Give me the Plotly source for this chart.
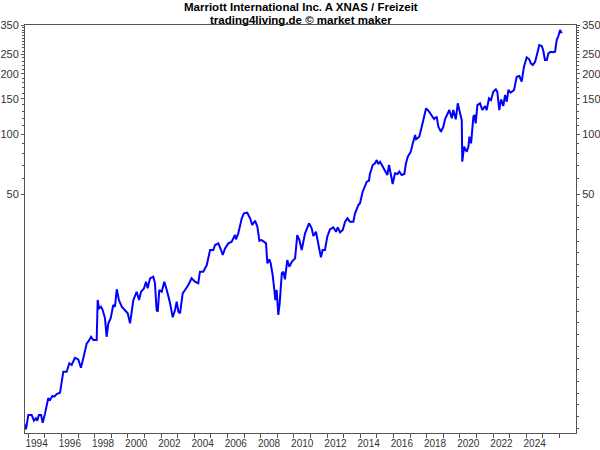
import math
from datetime import datetime
import plotly.graph_objects as go

# ---- data (decimal year, price) ----
years_dec = [
    1993.74, 1993.86, 1994.00, 1994.20, 1994.34, 1994.46, 1994.54, 1994.64, 1994.77, 1994.87,
    1995.01, 1995.20, 1995.31, 1995.45, 1995.57, 1995.71, 1995.91, 1996.11, 1996.31, 1996.47,
    1996.61, 1996.81, 1997.01, 1997.17, 1997.31, 1997.52, 1997.61, 1997.78, 1997.92, 1998.12,
    1998.18, 1998.26, 1998.38, 1998.48, 1998.62, 1998.72, 1998.82, 1998.96, 1999.12, 1999.22,
    1999.33, 1999.46, 1999.63, 1999.89, 1999.99, 2000.13, 2000.33, 2000.53, 2000.67, 2000.79,
    2000.97, 2001.09, 2001.19, 2001.33, 2001.53, 2001.63, 2001.73, 2001.80, 2001.89, 2002.04,
    2002.19, 2002.34, 2002.54, 2002.70, 2002.84, 2002.94, 2003.04, 2003.14, 2003.30, 2003.44,
    2003.64, 2003.84, 2004.04, 2004.24, 2004.34, 2004.54, 2004.75, 2004.95, 2005.14, 2005.25,
    2005.45, 2005.61, 2005.71, 2005.85, 2006.05, 2006.25, 2006.45, 2006.51, 2006.65, 2006.86,
    2006.99, 2007.19, 2007.36, 2007.49, 2007.66, 2007.80, 2007.92, 2008.06, 2008.32, 2008.40,
    2008.52, 2008.60, 2008.72, 2008.82, 2008.88, 2008.96, 2009.06, 2009.14, 2009.27, 2009.36,
    2009.46, 2009.60, 2009.72, 2009.87, 2010.07, 2010.20, 2010.33, 2010.47, 2010.57, 2010.67,
    2010.91, 2011.07, 2011.17, 2011.33, 2011.47, 2011.63, 2011.73, 2011.87, 2012.01, 2012.17,
    2012.37, 2012.54, 2012.64, 2012.78, 2012.94, 2013.08, 2013.22, 2013.38, 2013.58, 2013.68,
    2013.88, 2013.98, 2014.14, 2014.39, 2014.52, 2014.58, 2014.75, 2014.89, 2014.99, 2015.08,
    2015.19, 2015.35, 2015.49, 2015.63, 2015.73, 2015.86, 2015.95, 2016.09, 2016.23, 2016.35,
    2016.49, 2016.65, 2016.75, 2016.86, 2017.04, 2017.16, 2017.30, 2017.36, 2017.55, 2017.70,
    2017.84, 2017.96, 2018.10, 2018.30, 2018.44, 2018.60, 2018.70, 2018.86, 2019.00, 2019.10,
    2019.24, 2019.36, 2019.51, 2019.60, 2019.75, 2019.87, 2020.01, 2020.11, 2020.14, 2020.25,
    2020.41, 2020.51, 2020.57, 2020.67, 2020.81, 2020.87, 2020.95, 2021.05, 2021.21, 2021.35,
    2021.51, 2021.61, 2021.75, 2021.87, 2022.01, 2022.16, 2022.25, 2022.37, 2022.48, 2022.61,
    2022.72, 2022.82, 2022.92, 2023.06, 2023.26, 2023.42, 2023.58, 2023.72, 2023.86, 2024.02,
    2024.18, 2024.27, 2024.39, 2024.53, 2024.66, 2024.78, 2024.93, 2025.02, 2025.12, 2025.23,
    2025.33, 2025.47, 2025.63, 2025.73, 2025.83, 2025.93, 2026.03, 2026.13,
]
prices = [
    3.58, 3.34, 3.94, 3.94, 3.69, 3.79, 3.69, 3.94, 3.94, 3.60,
    4.01, 4.77, 4.68, 4.90, 4.86, 5.01, 5.09, 6.48, 6.48, 7.14,
    7.00, 7.61, 7.47, 6.78, 7.56, 8.98, 9.15, 9.69, 9.33, 9.33,
    14.79, 13.44, 13.69, 13.18, 11.98, 9.69, 11.31, 11.98, 13.96, 13.69,
    16.73, 14.79, 13.69, 12.93, 12.69, 11.31, 14.79, 16.27, 14.79, 16.27,
    16.92, 18.26, 16.92, 18.99, 19.34, 17.93, 13.18, 12.93, 16.60, 16.27,
    18.26, 16.60, 14.24, 12.12, 13.18, 14.51, 12.93, 12.69, 15.97, 16.60,
    17.58, 18.99, 18.26, 17.93, 20.49, 20.49, 22.13, 26.30, 26.30, 27.86,
    28.41, 26.30, 24.83, 26.82, 28.41, 28.94, 31.26, 29.74, 31.88, 37.89,
    40.13, 40.41, 37.89, 35.08, 36.85, 34.39, 29.27, 29.51, 28.41, 22.57,
    23.63, 22.57, 19.72, 16.60, 14.79, 16.60, 12.45, 14.24, 20.11, 20.49,
    18.77, 23.44, 21.70, 22.98, 23.90, 31.26, 29.51, 26.30, 29.51, 31.88,
    35.77, 33.77, 30.90, 32.47, 28.18, 24.17, 26.30, 26.30, 30.65, 33.38,
    34.16, 32.47, 34.16, 32.25, 33.11, 36.43, 37.89, 36.43, 36.43, 40.13,
    44.16, 45.03, 51.46, 57.74, 58.42, 63.10, 69.98, 71.37, 74.13, 70.79,
    72.69, 68.65, 65.56, 62.37, 69.98, 62.37, 56.23, 63.60, 63.10, 64.78,
    62.37, 63.10, 71.37, 77.00, 81.55, 89.85, 98.86, 94.08, 96.94, 108.8,
    122.1, 134.4, 130.8, 124.5, 118.9, 122.1, 108.8, 102.7, 108.8, 118.4,
    124.5, 131.8, 119.8, 131.8, 118.4, 142.4, 126.9, 117.5, 72.69, 86.38,
    81.55, 86.38, 96.94, 89.85, 122.1, 124.5, 113.1, 139.6, 142.4, 131.8,
    138.0, 131.8, 150.8, 147.9, 162.7, 167.3, 162.7, 131.8, 149.1, 138.0,
    156.7, 145.1, 166.0, 160.9, 166.0, 193.4, 195.0, 182.6, 217.0, 241.8,
    236.3, 225.7, 221.3, 229.9, 253.2, 278.6, 275.4, 260.9, 234.4, 234.4,
    253.2, 257.9, 256.2, 257.9, 295.1, 309.0, 331.1, 318.8,
]
y_tick_values = [50, 100, 150, 200, 250, 350]
y_tick_labels = ["50", "100", "150", "200", "250", "350"]
x_label_years = list(range(1994, 2025, 2))
x_tick_years = list(range(1994, 2027))

title_line1 = "Marriott International Inc. A XNAS / Freizeit"
title_line2 = "trading4living.de © market maker"


def dec_to_date(v):
    yr = int(math.floor(v))
    start = datetime(yr, 1, 1)
    end = datetime(yr + 1, 1, 1)
    return start + (end - start) * (v - yr)


dates = [dec_to_date(v).strftime("%Y-%m-%d") for v in years_dec]
label_pos = [f"{y}-07-02" for y in x_label_years]
label_txt = [str(y) for y in x_label_years]
tick_pos = [f"{y}-01-01" for y in x_tick_years]

minor_common = [v for v in range(60, 350, 10) if v not in (100, 150, 200, 250)]
y_lo, y_hi = 3.2, 350.8
minor_right = list(minor_common)
k = 1
while True:
    v = 50 * 10 ** (-0.0585 * k)
    if v < y_lo:
        break
    minor_right.append(v)
    k += 1

axis_col = "#555555"
lab_font = dict(family="Liberation Sans, Arial, sans-serif", size=11, color="#333333")
title_font = dict(family="Liberation Sans, Arial, sans-serif", size=11.5, color="#000000")

fig = go.Figure()
fig.add_trace(go.Scatter(x=dates, y=prices, mode="lines",
                         line=dict(color="#0000FF", width=2),
                         hoverinfo="skip", showlegend=False))
fig.add_trace(go.Scatter(x=dates, y=prices, mode="lines", yaxis="y2",
                         line=dict(color="rgba(0,0,0,0)", width=0),
                         hoverinfo="skip", showlegend=False))

yrange = [math.log10(y_lo), math.log10(y_hi)]

fig.update_layout(
    width=600, height=450,
    margin=dict(l=25, r=24, t=25, b=17, autoexpand=False),
    paper_bgcolor="white", plot_bgcolor="white",
    xaxis=dict(
        type="date", automargin=False,
        range=[dec_to_date(1993.80), dec_to_date(2026.99)],
        tickmode="array", tickvals=label_pos, ticktext=label_txt,
        ticks="outside", ticklen=1, tickcolor="rgba(0,0,0,0)",
        showgrid=False, zeroline=False,
        showline=True, linecolor=axis_col, linewidth=1, mirror=True,
        tickfont=dict(family="Liberation Sans, Arial, sans-serif", size=10, color="#333333"),
        minor=dict(tickmode="array", tickvals=tick_pos, ticks="outside",
                   ticklen=4, tickcolor=axis_col, showgrid=False),
    ),
    yaxis=dict(
        type="log", range=yrange, automargin=False,
        tickmode="array", tickvals=y_tick_values, ticktext=y_tick_labels,
        ticks="outside", ticklen=3, tickcolor=axis_col,
        showgrid=False, zeroline=False,
        showline=True, linecolor=axis_col, linewidth=1,
        tickfont=lab_font,
        minor=dict(tickmode="array", tickvals=minor_common, ticks="outside",
                   ticklen=2, tickcolor=axis_col, showgrid=False),
    ),
    yaxis2=dict(
        type="log", range=yrange, overlaying="y", side="right", automargin=False,
        tickmode="array", tickvals=y_tick_values, ticktext=y_tick_labels,
        ticks="outside", ticklen=3, tickcolor=axis_col,
        showgrid=False, zeroline=False,
        showline=True, linecolor=axis_col, linewidth=1,
        tickfont=lab_font,
        minor=dict(tickmode="array", tickvals=minor_right, ticks="outside",
                   ticklen=2, tickcolor=axis_col, showgrid=False),
    ),
    annotations=[
        dict(text="<b>" + title_line1 + "</b>", xref="paper", yref="paper", x=0.5,
             y=1 + (25 - 7.5) / 408, xanchor="center", yanchor="middle",
             showarrow=False, font=title_font),
        dict(text="<b>" + title_line2 + "</b>", xref="paper", yref="paper", x=0.5,
             y=1 + (25 - 19.5) / 408, xanchor="center", yanchor="middle",
             showarrow=False, font=title_font),
    ],
)

fig.write_html("out.html")
